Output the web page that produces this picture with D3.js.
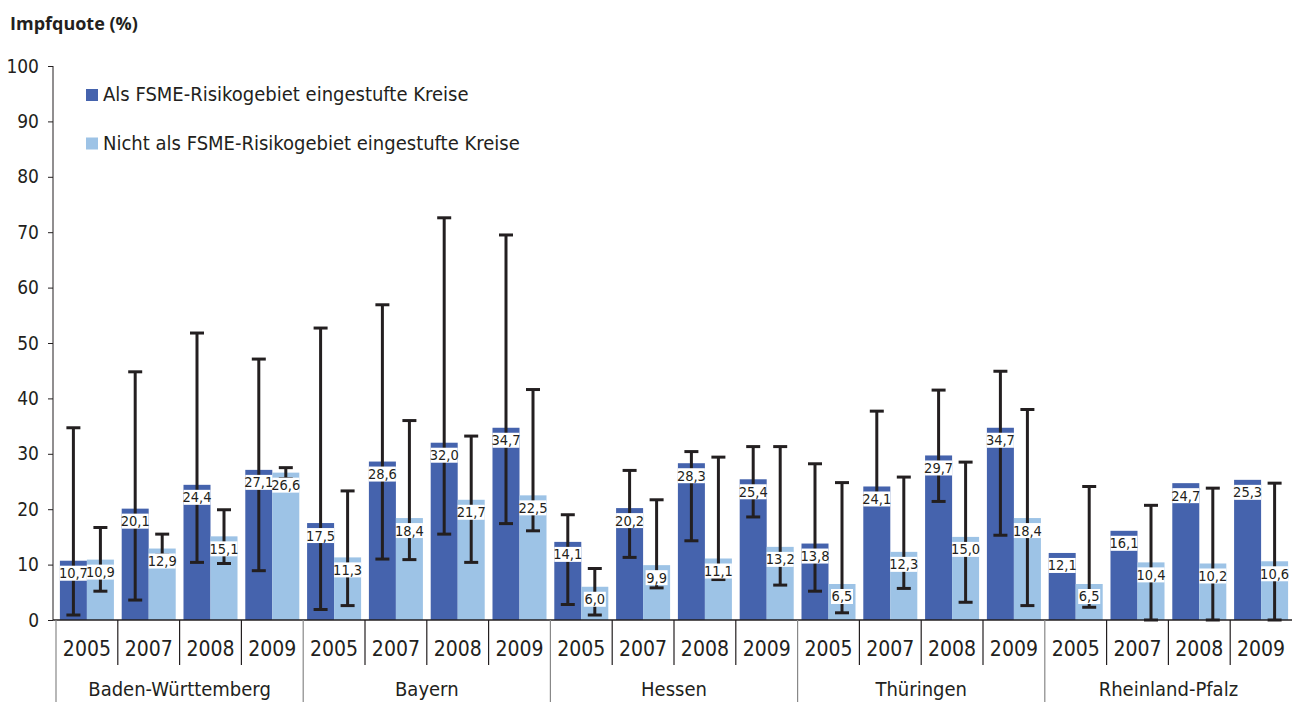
<!DOCTYPE html>
<html>
<head>
<meta charset="utf-8">
<script src="https://cdn.jsdelivr.net/npm/d3@7"></script>
<style>
  body { margin: 0; background: #fff; }
  svg text { font-family: "Liberation Sans Narrow", "DejaVu Sans Condensed", "Roboto", sans-serif; fill: #231f20; }
</style>
</head>
<body>
<div id="chart"></div>
<script>
// DATA
const states = ["Baden-Württemberg", "Bayern", "Hessen", "Thüringen", "Rheinland-Pfalz"];
const years = ["2005", "2007", "2008", "2009"];
const seriesNames = ["Als FSME-Risikogebiet eingestufte Kreise", "Nicht als FSME-Risikogebiet eingestufte Kreise"];

// risk districts (per state, per year)
const riskValues = [10.7, 20.1, 24.4, 27.1, 17.5, 28.6, 32.0, 34.7, 14.1, 20.2, 28.3, 25.4, 13.8, 24.1, 29.7, 34.7, 12.1, 16.1, 24.7, 25.3];
const riskLow  = [0.9, 3.6, 10.4, 8.9, 1.9, 11.0, 15.5, 17.4, 2.8, 11.3, 14.3, 18.6, 5.2, 21.2, 21.4, 15.3, null, null, null, null];
const riskHigh = [34.7, 44.8, 51.8, 47.1, 52.7, 56.9, 72.6, 69.5, 19.0, 27.0, 30.4, 31.3, 28.2, 37.7, 41.5, 44.9, null, null, null, null];

// non-risk districts
const otherValues = [10.9, 12.9, 15.1, 26.6, 11.3, 18.4, 21.7, 22.5, 6.0, 9.9, 11.1, 13.2, 6.5, 12.3, 15.0, 18.4, 6.5, 10.4, 10.2, 10.6];
const otherLow  = [5.2, 11.7, 10.2, 25.5, 2.6, 10.9, 10.4, 16.1, 0.9, 5.8, 7.3, 6.3, 1.3, 5.7, 3.2, 2.6, 2.3, 0.0, 0.0, 0.0];
const otherHigh = [16.7, 15.5, 19.9, 27.5, 23.3, 36.0, 33.2, 41.6, 9.3, 21.7, 29.4, 31.3, 24.8, 25.8, 28.5, 38.0, 24.1, 20.7, 23.8, 24.7];

const yTicks = [0, 10, 20, 30, 40, 50, 60, 70, 80, 90, 100];
const colors = ["#4563ad", "#9dc3e6"];

// Dimensions
const W = 1299, H = 702;
const plot = { left: 56, right: 1292, top: 66, bottom: 620 };

const groups = [];
states.forEach((s, i) => years.forEach((y, j) => groups.push({ state: s, year: y, key: s + "|" + y })));

const rows = groups.map((g, i) => ({
	key: g.key,
	series: [
		{ s: 0, v: riskValues[i], lo: riskLow[i], hi: riskHigh[i] },
		{ s: 1, v: otherValues[i], lo: otherLow[i], hi: otherHigh[i] }
	]
}));

// Scales
const x = d3.scaleBand().domain(groups.map(g => g.key)).range([plot.left, plot.right])
	.paddingInner(0.126).paddingOuter(0.063);
const xs = d3.scaleBand().domain([0, 1]).range([0, x.bandwidth()]);
const y = d3.scaleLinear().domain([0, 100]).range([plot.bottom, plot.top]);

const svg = d3.select("#chart").append("svg")
	.attr("width", W).attr("height", H);

// Title
svg.append("text")
	.attr("x", 10).attr("y", 30)
	.style("font-family", "'Open Sans', sans-serif")
	.style("font-size", "18px")
	.style("font-weight", 700)
	.text("Impfquote (%)");

// Y axis
const yAxis = d3.axisLeft(y).tickValues(yTicks).tickSize(5).tickPadding(9);
const gy = svg.append("g").attr("transform", "translate(53,0)").call(yAxis);
gy.select(".domain").attr("d", "M0," + y(100) + "V" + plot.bottom).attr("stroke", "#231f20");
gy.selectAll(".tick line").attr("stroke", "#231f20");
gy.selectAll(".tick text").style("font-size", "19px").attr("fill", "#231f20");

// Bars
const grp = svg.append("g").selectAll("g.grp")
	.data(rows).enter().append("g")
	.attr("class", "grp")
	.attr("transform", d => "translate(" + x(d.key) + ",0)");

grp.selectAll("rect.bar")
	.data(d => d.series).enter().append("rect")
	.attr("class", "bar")
	.attr("x", d => xs(d.s))
	.attr("width", xs.bandwidth())
	.attr("y", d => y(d.v))
	.attr("height", d => y(0) - y(d.v))
	.attr("fill", d => colors[d.s]);

// Error bars
const eb = grp.selectAll("g.err")
	.data(d => d.series.filter(e => e.hi != null)).enter().append("g")
	.attr("class", "err")
	.attr("stroke", "#231f20")
	.attr("stroke-width", 3);
eb.append("line")
	.attr("x1", d => xs(d.s) + xs.bandwidth() / 2).attr("x2", d => xs(d.s) + xs.bandwidth() / 2)
	.attr("y1", d => y(d.lo)).attr("y2", d => y(d.hi));
eb.append("line")
	.attr("x1", d => xs(d.s) + xs.bandwidth() / 2 - 7).attr("x2", d => xs(d.s) + xs.bandwidth() / 2 + 7)
	.attr("y1", d => y(d.hi)).attr("y2", d => y(d.hi));
eb.append("line")
	.attr("x1", d => xs(d.s) + xs.bandwidth() / 2 - 7).attr("x2", d => xs(d.s) + xs.bandwidth() / 2 + 7)
	.attr("y1", d => y(d.lo)).attr("y2", d => y(d.lo));

// Value labels
const fmt = v => d3.format(".1f")(v).replace(".", ",");
const lab = grp.selectAll("g.lab")
	.data(d => d.series).enter().append("g")
	.attr("class", "lab");
lab.append("rect")
	.attr("x", d => xs(d.s) + xs.bandwidth() / 2 - (fmt(d.v).length > 3 ? 13.5 : 11))
	.attr("width", d => fmt(d.v).length > 3 ? 27 : 22)
	.attr("y", d => y(d.v) + 5)
	.attr("height", 15)
	.attr("fill", "#fff");
lab.append("text")
	.attr("x", d => xs(d.s) + xs.bandwidth() / 2)
	.attr("y", d => y(d.v) + 17.5)
	.attr("text-anchor", "middle")
	.style("font-size", "14.5px")
	.text(d => fmt(d.v));

// X axis
svg.append("line")
	.attr("x1", 53).attr("x2", plot.right)
	.attr("y1", plot.bottom).attr("y2", plot.bottom)
	.attr("stroke", "#231f20").attr("stroke-width", 1.5);

const step = x.step();
groups.forEach((g, i) => {
	const left = x(g.key) - x.paddingInner() * step / 2;
	const isState = i % 4 === 0;
	svg.append("line")
		.attr("x1", left).attr("x2", left)
		.attr("y1", plot.bottom).attr("y2", isState ? H : 665)
		.attr("stroke", isState ? "#888" : "#231f20").attr("stroke-width", 1.2);
	svg.append("text")
		.attr("x", x(g.key) + x.bandwidth() / 2)
		.attr("y", 656)
		.attr("text-anchor", "middle")
		.style("font-size", "21px")
		.text(g.year);
});

states.forEach((s, i) => {
	const a = x(s + "|" + years[0]), b = x(s + "|" + years[3]) + x.bandwidth();
	svg.append("text")
		.attr("x", (a + b) / 2)
		.attr("y", 696)
		.attr("text-anchor", "middle")
		.style("font-size", "20px")
		.text(s);
});

// Legend
const leg = svg.append("g").selectAll("g")
	.data(seriesNames).enter().append("g")
	.attr("transform", (d, i) => "translate(86," + (89 + i * 48.5) + ")");
leg.append("rect").attr("width", 12).attr("height", 12).attr("fill", (d, i) => colors[i]);
leg.append("text").attr("x", 17).attr("y", 12).style("font-size", "20px").text(d => d);
</script>
</body>
</html>
